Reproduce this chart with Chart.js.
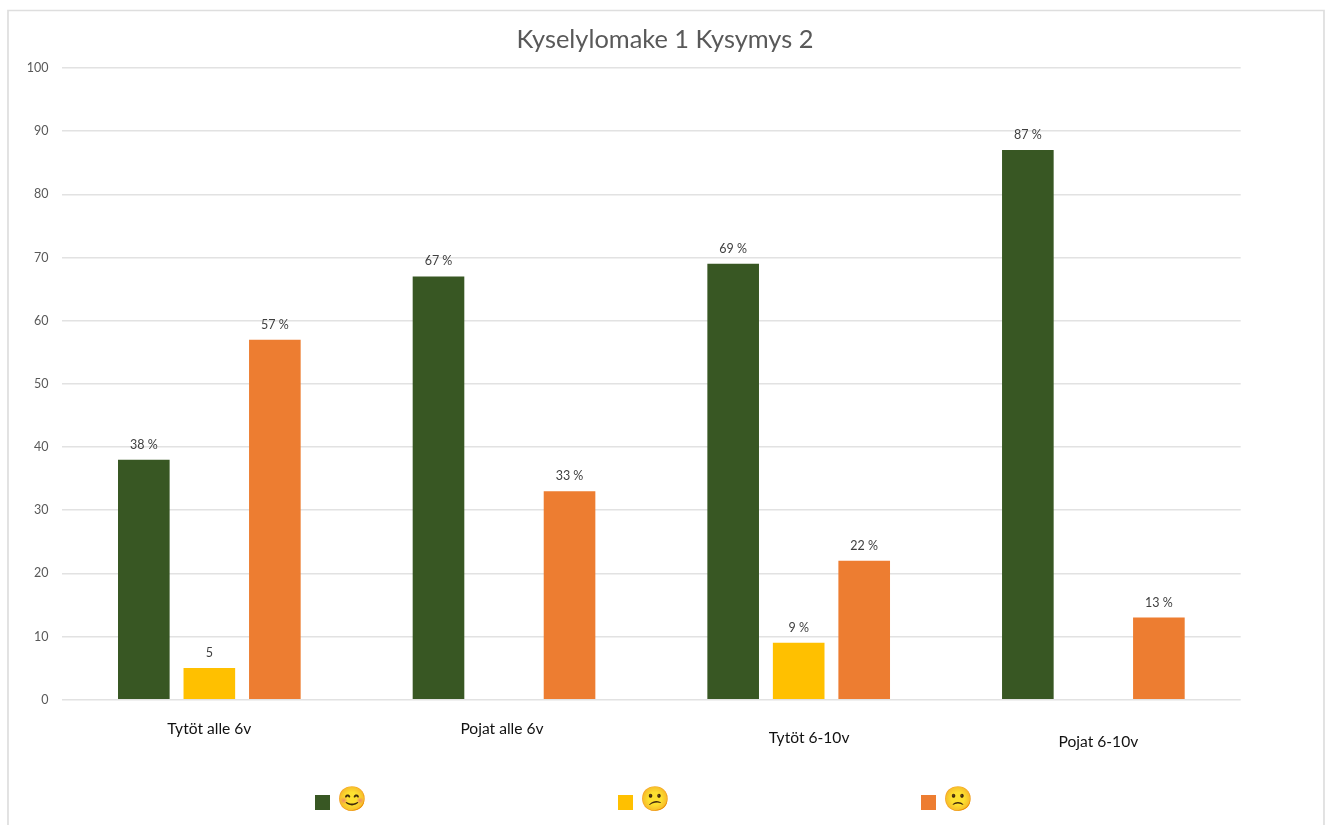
<!DOCTYPE html>
<html>
<head>
<meta charset="utf-8">
<title>Kyselylomake 1 Kysymys 2</title>
<script src="https://cdn.jsdelivr.net/npm/chart.js@4"></script>
<style>
    html, body { margin: 0; padding: 0; background: #fff; overflow: hidden; }
    #wrap { width: 1328px; height: 825px; position: relative; }
</style>
</head>
<body>
<div id="wrap"><canvas id="myChart"></canvas></div>
<script>
const titleText = 'Kyselylomake 1 Kysymys 2';
const categories = ['Tytöt alle 6v', 'Pojat alle 6v', 'Tytöt 6-10v', 'Pojat 6-10v'];
const seriesNames = ['😊', '😕', '🙁'];
const happy = [38, 67, 69, 87];
const neutral = [5, null, 9, null];
const sad = [57, 33, 22, 13];
const neutralSuffix = ['', '', ' %', ''];
const colors = ['#385723', '#FFC000', '#ED7D31'];

// the category labels sit at uneven spots in the original
const labelShiftX = [0, -2, 10.4, 5];
const labelY = [729, 729, 738, 742];
const legendX = [315, 618, 921];

const framePlugin = {
    id: 'frame',
    beforeDraw(chart) {
        const c = chart.ctx;
        c.save();
        c.strokeStyle = '#dedede';
        c.lineWidth = 1.7;
        c.beginPath();
        c.moveTo(8, 825);
        c.lineTo(8, 10.5);
        c.lineTo(1324, 10.5);
        c.lineTo(1324, 825);
        c.stroke();
        c.restore();

        // title is centred on the frame, not on the plot area
        c.save();
        c.textAlign = 'center';
        c.textBaseline = 'middle';
        c.font = '25.4px Lato';
        c.fillStyle = '#595959';
        c.fillText(titleText, 665, 40);
        c.restore();
    }
};

const labelsPlugin = {
    id: 'valueLabels',
    afterDatasetsDraw(chart) {
        const c = chart.ctx;
        c.save();
        c.textAlign = 'center';
        c.textBaseline = 'middle';
        c.font = '12.5px Lato';
        c.fillStyle = '#404040';
        chart.data.datasets.forEach((ds, i) => {
            chart.getDatasetMeta(i).data.forEach((bar, j) => {
                if (ds.data[j] === null) return;
                const suffix = i === 1 ? neutralSuffix[j] : ' %';
                c.fillText(ds.data[j] + suffix, bar.x, bar.y - 15);
            });
        });

        // category labels
        const xScale = chart.scales.x;
        c.font = '15.6px Lato';
        c.fillStyle = '#111';
        categories.forEach((name, j) => {
            c.fillText(name, xScale.getPixelForTick(j) + labelShiftX[j], labelY[j]);
        });

        // legend
        c.textAlign = 'left';
        seriesNames.forEach((name, i) => {
            c.fillStyle = colors[i];
            c.fillRect(legendX[i], 795, 15, 15);
            c.font = '24px "Noto Sans", sans-serif';
            c.fillStyle = '#000';
            c.fillText(name, legendX[i] + 22, 800);
        });
        c.restore();
    }
};

new Chart(document.getElementById('myChart'), {
    type: 'bar',
    data: {
        labels: categories,
        datasets: [
            { label: seriesNames[0], data: happy, backgroundColor: colors[0] },
            { label: seriesNames[1], data: neutral, backgroundColor: colors[1] },
            { label: seriesNames[2], data: sad, backgroundColor: colors[2] }
        ]
    },
    options: {
        responsive: true,
        maintainAspectRatio: false,
        animation: false,
        datasets: { bar: { categoryPercentage: 0.667, barPercentage: 0.788 } },
        layout: { padding: { left: 0, right: 87.3, top: 68, bottom: 125.3 } },
        plugins: {
            legend: { display: false },
            tooltip: { enabled: false },
            title: { display: false }
        },
        scales: {
            x: {
                grid: { display: false },
                border: { display: false },
                ticks: { display: false },
                afterFit(scale) { scale.height = 0; }
            },
            y: {
                min: 0,
                max: 100,
                grid: { color: '#e2e2e2', lineWidth: 1.5, tickLength: 0 },
                border: { display: false },
                ticks: {
                    stepSize: 10,
                    color: '#595959',
                    padding: 13.5,
                    font: { family: 'Lato', size: 12.5 }
                },
                afterFit(scale) { scale.width = 62; }
            }
        }
    },
    plugins: [framePlugin, labelsPlugin]
});
</script>
</body>
</html>
